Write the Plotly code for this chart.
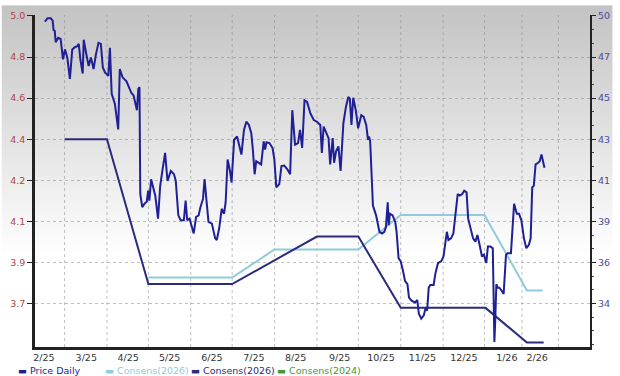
import base64
import plotly.graph_objects as go

# ---------------- data ----------------
# x values are trading-session indices along the chart's time axis
month_labels = ["2/25", "3/25", "4/25", "5/25", "6/25", "7/25", "8/25",
                "9/25", "10/25", "11/25", "12/25", "1/26", "2/26"]
label_pos = [4.5, 26, 47.2, 68.3, 89.7, 111, 132.2, 154.5, 175.5, 196.5, 217.5, 239.3, 254.7]
month_starts = [15, 36.5, 57.5, 79, 100, 121.5, 143, 164, 185.5, 207, 228, 247, 265.5]

price_t = [5, 6.4, 8, 9, 9.4, 10, 10.5, 11.7, 13, 14.2, 15.2, 16.4, 17.7, 18.9, 20.2, 21.4,
           22.2, 23, 24.2, 24.7, 26, 27.2, 28.4, 29.7, 30.9, 32.2, 33.4, 34.4, 35.5, 37.2,
           38, 38.9, 40.5, 42.2, 43, 44.4, 46.4, 47.7, 48.9, 50, 51, 51.7, 52.4, 53, 53.4,
           54.4, 55.5, 56.7, 57.4, 58, 58.9, 60, 61, 62.4, 63.5, 64.7, 66, 67.2, 68.9, 70.5,
           71.4, 72.7, 73.9, 75.5, 76.4, 77.2, 78.4, 80.5, 81.7, 83, 83.9, 85.2, 86, 86.9,
           88, 89.7, 91.4, 92.2, 93.4, 94.7, 95.9, 96.7, 97.7, 98.9, 99.7, 101, 102.5, 103.5,
           104.7, 106, 107.2, 108.5, 109.7, 110.5, 111.4, 112.2, 113.4, 114.7, 116, 116.7,
           117.4, 118.9, 120.5, 121.4, 122.4, 123.9, 125, 126.4, 128, 129.4, 130.5, 131.9,
           133.4, 134.4, 135.5, 136.7, 138, 139.7, 141.4, 143, 144.7, 145.5, 146.4, 147.7,
           148.9, 149.7, 151, 151.7, 152.7, 153.9, 155, 156.4, 157.7, 158.9, 159.7, 160.5,
           161.4, 162.7, 163.9, 165.5, 166.7, 168, 168.9, 169.4, 170, 171.4, 173, 174.7, 176,
           177.2, 178, 178.9, 179.4, 180, 181.4, 182.7, 183.4, 184.4, 185.5, 186.7, 187.7,
           188.9, 189.7, 191, 192.7, 193.9, 194.7, 195.9, 197.2, 198, 198.9, 199.7, 200.5,
           202.2, 203, 204.4, 206, 207.2, 208.4, 208.9, 209.7, 211, 212.2, 213.4, 214.4,
           215.5, 216.7, 217.7, 218.9, 219.7, 221, 222.2, 223.4, 224.4, 225.5, 226.7, 227.7,
           228.9, 229.7, 231, 232.2, 233, 233.5, 234, 234.7, 235.5, 236.7, 237.7, 238.9,
           239.7, 241.4, 242.2, 243, 244.4, 245.5, 246.7, 248, 249.2, 250.5, 251.4, 252.2,
           253, 253.9, 255.2, 256, 256.9, 257.5, 258.4]
price_v = [49.69, 49.88, 49.88, 49.73, 49.24, 49.19, 48.56, 48.80, 48.74, 47.63, 48.17, 47.72,
           46.55, 48.17, 48.29, 48.34, 48.47, 47.63, 46.85, 48.70, 47.93, 47.26, 47.72, 47.09,
           47.90, 48.53, 48.47, 47.18, 46.91, 46.72, 48.26, 45.74, 45.20, 43.79, 47.09, 46.64,
           46.42, 46.10, 45.78, 45.65, 45.20, 44.84, 46.01, 46.10, 40.25, 39.53, 39.71, 39.84,
           40.43, 39.89, 41.06, 40.61, 40.16, 38.90, 40.70, 41.60, 42.50, 40.97, 41.51, 41.33,
           40.97, 39.08, 38.81, 38.81, 39.89, 38.81, 38.90, 38.09, 38.99, 39.08, 39.53, 39.98,
           41.06, 39.98, 38.72, 38.63, 37.82, 37.73, 38.36, 39.44, 39.17, 39.80, 42.14, 41.51,
           40.88, 43.22, 43.40, 42.95, 42.41, 43.76, 44.21, 44.03, 43.58, 42.68, 41.33, 42.05,
           41.96, 41.87, 43.13, 42.68, 43.08, 43.04, 42.77, 42.14, 40.61, 40.79, 41.78, 41.81,
           41.60, 41.33, 44.84, 42.95, 43.04, 43.76, 42.77, 45.38, 45.29, 44.66, 44.30, 44.21,
           44.03, 42.50, 43.94, 43.58, 43.31, 41.87, 43.31, 41.96, 42.59, 42.86, 41.51, 44.12,
           45.02, 45.56, 45.47, 44.03, 45.52, 44.84, 43.85, 44.57, 44.48, 44.03, 43.22, 43.40,
           43.13, 39.62, 39.08, 38.18, 38.09, 38.18, 38.45, 39.80, 38.54, 39.17, 39.08, 38.72,
           38.18, 36.74, 36.56, 36.02, 35.48, 35.31, 34.58, 34.41, 34.31, 34.44, 33.69, 33.42,
           33.60, 33.96, 33.87, 35.12, 35.27, 35.27, 35.85, 36.47, 36.56, 36.83, 37.64, 38.18,
           37.73, 37.82, 38.09, 39.26, 40.25, 40.16, 40.25, 40.43, 40.34, 38.90, 38.36, 37.82,
           37.64, 38.00, 37.47, 36.83, 36.93, 36.47, 37.37, 37.37, 37.28, 32.15, 33.50, 35.31,
           35.12, 35.12, 34.95, 34.77, 36.93, 37.01, 37.01, 38.18, 39.71, 39.17, 39.17, 38.81,
           37.82, 37.28, 37.47, 37.82, 40.61, 40.70, 41.87, 41.96, 42.05, 42.41, 42.05, 41.69]

cons_light_t = [57.5, 100, 121.5, 164, 185.5, 228, 249.5, 257.5]
cons_light_v = [3.79, 3.79, 3.92, 3.92, 4.08, 4.08, 3.73, 3.73]
cons_dark_t = [15, 36.5, 57.5, 100, 143, 164, 185.5, 228.5, 249.5, 258]
cons_dark_v = [4.43, 4.43, 3.76, 3.76, 3.98, 3.98, 3.65, 3.65, 3.49, 3.49]
cons_2024_t = []
cons_2024_v = []

eps_ticks = [5.0, 4.81, 4.62, 4.43, 4.24, 4.05, 3.86, 3.67]
eps_labels = ["5.0", "4.8", "4.6", "4.4", "4.2", "4.1", "3.9", "3.7"]
price_ticks = [50, 47.75, 45.5, 43.25, 41, 38.75, 36.5, 34.25]
price_labels = ["50", "47", "45", "43", "41", "39", "36", "34"]

legend_names = ["Price Daily", "Consens(2026)", "Consens(2026)", "Consens(2024)"]

# ---------------- style ----------------
C_PRICE = "#1f1f96"
C_LIGHT = "#8fcbdc"
C_DARK = "#2b2b7e"
C_GREEN = "#3c9a3c"
FONT = "DejaVu Sans"
GRID = "rgba(140,140,140,0.55)"

W, H = 620, 376
ML, MR, MT, MB = 34, 23, 10, 29
pw, ph = W - ML - MR, H - MT - MB

fig = go.Figure()
fig.add_trace(go.Scatter(x=cons_light_t, y=cons_light_v, mode="lines", name=legend_names[1],
                         line=dict(color=C_LIGHT, width=2), yaxis="y", showlegend=False))
fig.add_trace(go.Scatter(x=cons_dark_t, y=cons_dark_v, mode="lines", name=legend_names[2],
                         line=dict(color=C_DARK, width=2), yaxis="y", showlegend=False))
fig.add_trace(go.Scatter(x=cons_2024_t, y=cons_2024_v, mode="lines", name=legend_names[3],
                         line=dict(color=C_GREEN, width=2), yaxis="y", showlegend=False))
fig.add_trace(go.Scatter(x=price_t, y=price_v, mode="lines", name=legend_names[0],
                         line=dict(color=C_PRICE, width=2), yaxis="y2", showlegend=False))

# vertical month gridlines (dotted), placed from month_starts
for ms in month_starts:
    fig.add_shape(type="line", xref="x", yref="paper", x0=ms, x1=ms, y0=0, y1=1,
                  line=dict(color=GRID, width=1, dash="dot"), layer="below")

# background gradient (style only)
svg = ('<svg xmlns="http://www.w3.org/2000/svg" width="100" height="100" preserveAspectRatio="none">'
       '<defs><linearGradient id="g" x1="0" y1="0" x2="0" y2="1">'
       '<stop offset="0" stop-color="#c3c3c3"/><stop offset="0.68" stop-color="#ffffff"/>'
       '<stop offset="1" stop-color="#ffffff"/></linearGradient></defs>'
       '<rect width="100" height="100" fill="url(#g)"/></svg>')
src = "data:image/svg+xml;base64," + base64.b64encode(svg.encode()).decode()

xr = [0, 281.5]
fig.update_layout(
    width=W, height=H,
    margin=dict(l=ML, r=MR, t=MT, b=MB, pad=0),
    paper_bgcolor="white",
    plot_bgcolor="rgba(0,0,0,0)",
    showlegend=False,
    font=dict(family=FONT, size=9.5, color="#333"),
    images=[dict(source=src, xref="paper", yref="paper",
                 x=-ML / pw, y=1 + MT / ph, sizex=W / pw, sizey=H / ph,
                 sizing="stretch", layer="below", xanchor="left", yanchor="top")],
    xaxis=dict(range=xr, tickmode="array", tickvals=label_pos, ticktext=month_labels,
               showgrid=False, zeroline=False, ticks="", showline=True,
               linecolor="#222", linewidth=2.5, tickfont=dict(color="#333", size=9.5)),
    yaxis=dict(range=[3.469, 5.0046], tickmode="array", tickvals=eps_ticks, ticktext=eps_labels,
               showgrid=True, griddash="dot", gridcolor=GRID, gridwidth=1,
               zeroline=False, showline=True, linecolor="#222", linewidth=2.5,
               ticks="outside", ticklen=5, tickcolor="#222", tickwidth=1,
               tickfont=dict(color="#b04444", size=9.5)),
    yaxis2=dict(range=[31.87, 50.054], overlaying="y", side="right", tickmode="array",
                tickvals=price_ticks, ticktext=price_labels, showgrid=False, zeroline=False,
                showline=True, linecolor="#222", linewidth=2,
                ticks="outside", ticklen=4, tickcolor="#222", tickwidth=1,
                minor=dict(ticks="outside", tickmode="linear", tick0=50, dtick=0.75,
                           ticklen=2, tickcolor="#444", showgrid=False),
                tickfont=dict(color="#4b4b9c", size=9.5)),
)

# legend row built as text
leg_colors = [C_PRICE, C_LIGHT, C_DARK, C_GREEN]
leg_px = [15, 103, 190, 277]
for name, col, px in zip(legend_names, leg_colors, leg_px):
    fig.add_annotation(text="\u25ac " + name, xref="paper", yref="paper",
                       x=(px - ML) / pw, y=-(371 - (H - MB)) / ph,
                       xanchor="left", yanchor="middle", showarrow=False,
                       font=dict(family=FONT, size=9.5, color=col))

fig.write_html("out.html")
